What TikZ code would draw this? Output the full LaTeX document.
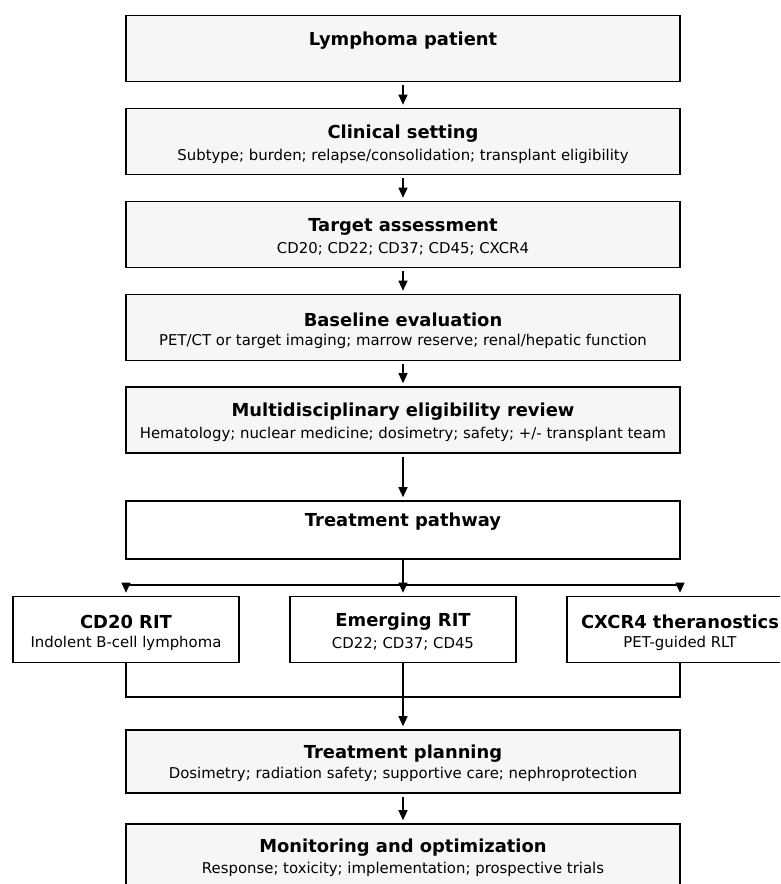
\documentclass[tikz,border=0pt]{standalone}
\usepackage{fontspec}
\setmainfont{DejaVu Sans}
\usepackage{tikz}
\usetikzlibrary{arrows.meta}
\definecolor{boxfill}{RGB}{246,246,246}
\tikzset{
  stage/.style={draw,line width=1.6pt,fill=boxfill,minimum width=554pt,minimum height=66pt,inner sep=0pt},
  branch/.style={stage,fill=white,minimum width=226pt},
  ttl/.style={font=\fontsize{17.9}{20}\selectfont\bfseries,inner sep=0pt},
  sub/.style={font=\fontsize{14.9}{17}\selectfont,inner sep=0pt},
  arr/.style={-{Triangle[length=10pt,width=9pt]},line width=1.3pt,shorten >=3pt,shorten <=3pt},
  wire/.style={line width=1.3pt}
}

\begin{document}
\begin{tikzpicture}[x=1pt,y=-1pt]
  \useasboundingbox (0,0) rectangle (780,884);
  \clip (0,0) rectangle (780,884);
  % main column
  \node[stage] (lym) at (403,48.5) {};
  \node[ttl] (lym-t) at (403,41) {Lymphoma patient};
  \node[stage] (clin) at (403,141.5) {};
  \node[ttl] (clin-t) at (403,134) {Clinical setting};
  \node[sub] (clin-s) at (403,156.5) {Subtype; burden; relapse/consolidation; transplant eligibility};
  \node[stage] (targ) at (403,234.5) {};
  \node[ttl] (targ-t) at (403,227) {Target assessment};
  \node[sub] (targ-s) at (403,248.5) {CD20; CD22; CD37; CD45; CXCR4};
  \node[stage] (base) at (403,327.5) {};
  \node[ttl] (base-t) at (403,320) {Baseline evaluation};
  \node[sub] (base-s) at (403,341.5) {PET/CT or target imaging; marrow reserve; renal/hepatic function};
  \node[stage] (mdt) at (403,420) {};
  \node[ttl] (mdt-t) at (403,412) {Multidisciplinary eligibility review};
  \node[sub] (mdt-s) at (403,434.5) {Hematology; nuclear medicine; dosimetry; safety; +/- transplant team};
  \node[stage,fill=white,minimum height=58pt] (path) at (403,530) {};
  \node[ttl] (path-t) at (403,522) {Treatment pathway};
  % branches
  \node[branch] (cd20) at (126,629.5) {};
  \node[ttl] (cd20-t) at (126,622) {CD20 RIT};
  \node[sub] (cd20-s) at (126,643.5) {Indolent B-cell lymphoma};
  \node[branch] (emer) at (403,629.5) {};
  \node[ttl] (emer-t) at (403,622) {Emerging RIT};
  \node[sub] (emer-s) at (403,643.5) {CD22; CD37; CD45};
  \node[branch] (cxcr) at (680,629.5) {};
  \node[ttl] (cxcr-t) at (680,622) {CXCR4 theranostics};
  \node[sub] (cxcr-s) at (680,643.5) {PET-guided RLT};
  % lower column
  \node[stage,minimum height=63pt] (plan) at (403,761.5) {};
  \node[ttl] (plan-t) at (403,754) {Treatment planning};
  \node[sub] (plan-s) at (403,774.5) {Dosimetry; radiation safety; supportive care; nephroprotection};
  \node[stage,minimum height=76pt] (mon) at (403,862) {};
  \node[ttl] (mon-t) at (403,848) {Monitoring and optimization};
  \node[sub] (mon-s) at (403,869.5) {Response; toxicity; implementation; prospective trials};
  % split and merge points
  \coordinate (sl) at (126,585);
  \coordinate (sm) at (403,585);
  \coordinate (sr) at (680,585);
  \coordinate (ml) at (126,697);
  \coordinate (mm) at (403,697);
  \coordinate (mr) at (680,697);
  \path[arr]
    (lym) edge (clin)
    (clin) edge (targ)
    (targ) edge (base)
    (base) edge (mdt)
    (mdt) edge (path)
    (plan) edge (mon);
  \draw[wire] (path) -- (sm);
  \draw[wire] (sl) -- (sr);
  \path[arr,shorten <=0pt]
    (sl) edge (cd20)
    (sm) edge (emer)
    (sr) edge (cxcr)
    (mm) edge (plan);
  \draw[wire] (cd20) -- (ml) -- (mr) -- (cxcr);
  \draw[wire] (emer) -- (mm);
\end{tikzpicture}
\end{document}
